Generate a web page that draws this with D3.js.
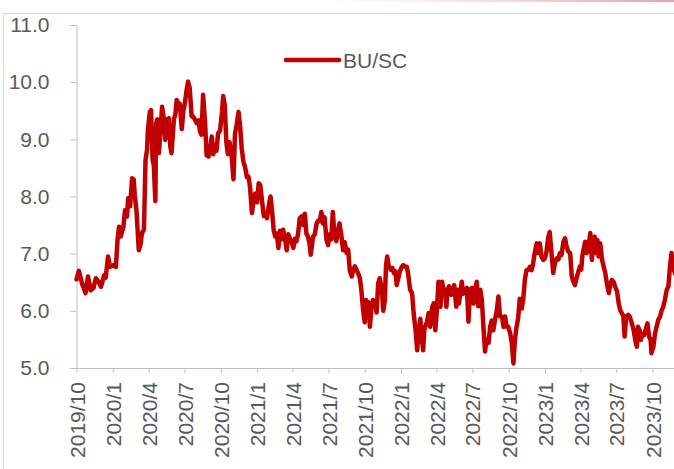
<!DOCTYPE html>
<html>
<head>
<meta charset="utf-8">
<script src="https://cdn.jsdelivr.net/npm/d3@7"></script>
<style>
  html, body { margin: 0; padding: 0; background: #fff; }
  svg { display: block; }
  text { font-family: "Liberation Sans", Arial, sans-serif; fill: #595959; }
</style>
</head>
<body>
<svg id="chart" width="674" height="469"></svg>
<script>
// BU/SC ratio, sampled observations
const seriesName = "BU/SC";
const dates = [
"2019-10-01","2019-10-07","2019-10-15","2019-10-24","2019-10-30","2019-11-06","2019-11-13","2019-11-19","2019-11-25","2019-12-02",
"2019-12-10","2019-12-14","2019-12-20","2019-12-25","2020-01-03","2020-01-09","2020-01-13","2020-01-17","2020-01-21","2020-01-28",
"2020-02-01","2020-02-06","2020-02-09","2020-02-14","2020-02-19","2020-02-23","2020-02-26","2020-03-01","2020-03-07","2020-03-11",
"2020-03-15","2020-03-20","2020-03-24","2020-03-28","2020-03-30","2020-04-04","2020-04-07","2020-04-11","2020-04-14","2020-04-18",
"2020-04-20","2020-04-23","2020-04-27","2020-05-01","2020-05-05","2020-05-09","2020-05-13","2020-05-17","2020-05-22","2020-05-26",
"2020-05-29","2020-06-04","2020-06-08","2020-06-11","2020-06-16","2020-06-19","2020-06-24","2020-06-28","2020-07-02","2020-07-06",
"2020-07-10","2020-07-14","2020-07-19","2020-07-23","2020-07-27","2020-08-01","2020-08-06","2020-08-09","2020-08-13","2020-08-17",
"2020-08-22","2020-08-26","2020-08-31","2020-09-04","2020-09-08","2020-09-12","2020-09-16","2020-09-20","2020-09-24","2020-09-29",
"2020-10-04","2020-10-07","2020-10-11","2020-10-15","2020-10-19","2020-10-23","2020-10-28","2020-11-02","2020-11-06","2020-11-10",
"2020-11-15","2020-11-19","2020-11-23","2020-11-27","2020-12-02","2020-12-06","2020-12-10","2020-12-14","2020-12-19","2020-12-23",
"2020-12-27","2021-01-01","2021-01-05","2021-01-09","2021-01-13","2021-01-18","2021-01-22","2021-01-26","2021-02-01","2021-02-04",
"2021-02-08","2021-02-12","2021-02-16","2021-02-20","2021-02-24","2021-02-28","2021-03-04","2021-03-08","2021-03-12","2021-03-17",
"2021-03-21","2021-03-25","2021-03-29","2021-04-03","2021-04-07","2021-04-11","2021-04-15","2021-04-19","2021-04-24","2021-04-28",
"2021-05-02","2021-05-06","2021-05-10","2021-05-14","2021-05-17","2021-05-23","2021-05-27","2021-06-01","2021-06-05","2021-06-09",
"2021-06-13","2021-06-17","2021-06-21","2021-06-26","2021-06-30","2021-07-04","2021-07-08","2021-07-12","2021-07-16","2021-07-21",
"2021-07-25","2021-07-29","2021-08-03","2021-08-07","2021-08-11","2021-08-16","2021-08-20","2021-08-24","2021-08-29","2021-09-02",
"2021-09-06","2021-09-10","2021-09-14","2021-09-19","2021-09-23","2021-09-27","2021-10-01","2021-10-04","2021-10-07","2021-10-11",
"2021-10-14","2021-10-18","2021-10-22","2021-10-27","2021-10-31","2021-11-04","2021-11-08","2021-11-13","2021-11-17","2021-11-21",
"2021-11-24","2021-11-27","2021-12-01","2021-12-06","2021-12-10","2021-12-14","2021-12-18","2021-12-21","2021-12-25","2021-12-29",
"2022-01-03","2022-01-07","2022-01-12","2022-01-16","2022-01-20","2022-01-24","2022-01-29","2022-02-02","2022-02-07","2022-02-11",
"2022-02-15","2022-02-19","2022-02-22","2022-02-26","2022-03-01","2022-03-03","2022-03-08","2022-03-12","2022-03-16","2022-03-21",
"2022-03-25","2022-03-29","2022-04-02","2022-04-06","2022-04-11","2022-04-15","2022-04-19","2022-04-23","2022-04-26","2022-04-29",
"2022-05-03","2022-05-08","2022-05-13","2022-05-16","2022-05-21","2022-05-25","2022-05-28","2022-05-31","2022-06-04","2022-06-08",
"2022-06-13","2022-06-17","2022-06-21","2022-06-25","2022-06-30","2022-07-04","2022-07-08","2022-07-12","2022-07-16","2022-07-21",
"2022-07-25","2022-07-29","2022-08-02","2022-08-06","2022-08-11","2022-08-15","2022-08-19","2022-08-23","2022-08-27","2022-09-01",
"2022-09-05","2022-09-09","2022-09-14","2022-09-18","2022-09-22","2022-09-26","2022-09-30","2022-10-05","2022-10-09","2022-10-13",
"2022-10-17","2022-10-21","2022-10-25","2022-10-29","2022-11-03","2022-11-07","2022-11-11","2022-11-15","2022-11-19","2022-11-24",
"2022-11-28","2022-12-02","2022-12-06","2022-12-11","2022-12-15","2022-12-19","2022-12-23","2022-12-28","2023-01-01","2023-01-05",
"2023-01-09","2023-01-13","2023-01-18","2023-01-22","2023-01-26","2023-01-31","2023-02-04","2023-02-08","2023-02-12","2023-02-17",
"2023-02-21","2023-02-25","2023-03-01","2023-03-06","2023-03-10","2023-03-14","2023-03-18","2023-03-22","2023-03-27","2023-03-31",
"2023-04-03","2023-04-06","2023-04-09","2023-04-13","2023-04-17","2023-04-21","2023-04-26","2023-04-30","2023-05-04","2023-05-07",
"2023-05-10","2023-05-14","2023-05-17","2023-05-21","2023-05-26","2023-05-30","2023-06-03","2023-06-07","2023-06-12","2023-06-16",
"2023-06-20","2023-06-24","2023-06-28","2023-07-03","2023-07-07","2023-07-11","2023-07-15","2023-07-19","2023-07-22","2023-07-26",
"2023-07-31","2023-08-04","2023-08-08","2023-08-12","2023-08-14","2023-08-18","2023-08-22","2023-08-25","2023-08-29","2023-09-01",
"2023-09-05","2023-09-09","2023-09-13","2023-09-18","2023-09-22","2023-09-26","2023-09-28","2023-10-03","2023-10-07","2023-10-11",
"2023-10-16","2023-10-20","2023-10-24","2023-10-28","2023-11-01","2023-11-06","2023-11-10","2023-11-14","2023-11-18","2023-11-22",
"2023-11-27"
];
const values = [
6.55,6.70,6.48,6.31,6.60,6.36,6.40,6.57,6.52,6.42,
6.62,6.58,6.95,6.77,6.80,6.77,7.24,7.47,7.30,7.47,
7.76,7.65,7.97,7.83,8.32,8.30,8.01,7.76,7.06,7.15,
7.36,7.42,8.64,8.82,9.16,9.48,9.51,8.64,8.55,7.92,
9.28,9.35,8.76,9.16,9.57,9.39,8.99,9.34,9.37,8.87,
8.76,9.35,9.45,9.69,9.60,9.62,9.18,9.50,9.64,9.85,
10.01,9.90,9.40,9.40,9.35,9.28,9.33,9.14,9.08,9.78,
9.30,8.72,8.70,8.85,9.05,8.74,8.90,8.80,9.10,9.15,
9.48,9.76,9.60,8.95,8.74,8.95,8.75,8.30,9.10,9.25,
9.48,9.22,8.84,8.62,8.50,8.34,8.35,8.17,7.71,7.92,
8.05,7.90,8.23,8.20,7.95,7.66,7.72,7.62,7.90,8.00,
7.75,7.41,7.30,7.35,7.10,7.40,7.25,7.42,7.30,7.06,
7.34,7.27,7.22,7.10,7.26,7.22,7.35,7.62,7.65,7.50,
7.70,7.35,7.30,7.18,6.98,7.30,7.33,7.53,7.58,7.57,
7.73,7.53,7.64,7.24,7.15,7.34,7.25,7.73,7.34,7.22,
7.40,7.53,7.30,7.06,7.20,7.01,7.07,6.71,6.60,6.72,
6.78,6.72,6.66,6.56,6.32,6.00,5.80,6.19,5.95,6.15,
5.72,6.05,6.19,6.15,5.97,6.48,6.57,6.40,6.00,6.19,
6.80,6.95,6.78,6.72,6.75,6.66,6.69,6.45,6.57,6.69,
6.77,6.80,6.77,6.77,6.60,6.37,6.31,5.96,5.66,5.31,
5.66,5.86,5.60,5.31,5.66,5.72,5.81,5.96,5.72,6.07,
6.13,5.66,6.02,6.51,6.07,6.51,6.37,6.37,6.07,6.37,
6.43,6.28,6.37,6.45,6.07,6.37,6.13,6.30,6.51,6.30,
6.37,6.40,5.81,6.37,6.40,6.13,6.37,6.51,6.08,6.37,
6.19,5.72,5.29,5.50,5.44,5.72,5.83,5.66,5.83,6.01,
6.25,5.90,5.90,5.72,5.90,5.72,5.72,5.60,5.43,5.08,
5.50,5.72,5.87,6.21,6.04,6.21,6.54,6.71,6.71,6.77,
6.71,6.83,7.01,7.18,7.01,7.18,6.95,6.89,6.92,7.04,
7.27,7.38,6.98,6.66,6.83,6.92,6.90,7.01,6.98,7.21,
7.27,7.12,7.04,7.01,6.60,6.51,6.45,6.57,6.69,6.78,
6.72,6.97,7.07,7.21,7.01,7.10,7.36,6.89,7.24,7.30,
7.01,7.24,6.95,7.18,6.89,6.77,6.66,6.48,6.31,6.48,
6.54,6.51,6.42,6.34,6.13,6.01,5.96,5.90,5.55,5.90,
5.93,5.90,5.81,5.72,5.66,5.49,5.37,5.72,5.66,5.49,
5.60,5.57,5.66,5.78,5.55,5.49,5.26,5.37,5.60,5.72,
5.85,5.90,6.01,6.07,6.19,6.37,6.43,6.77,7.01,6.77,
6.65
];
const yTicks = [5, 6, 7, 8, 9, 10, 11];
const xTickDates = [
"2019-10-01","2020-01-01","2020-04-01","2020-07-01","2020-10-01","2021-01-01","2021-04-01","2021-07-01",
"2021-10-01","2022-01-01","2022-04-01","2022-07-01","2022-10-01","2023-01-01","2023-04-01","2023-07-01","2023-10-01"
];

const parse = d3.timeParse("%Y-%m-%d");
const data = dates.map((d, i) => ({ date: parse(d), value: values[i] }));

const svg = d3.select("#chart");
const W = 674, H = 469;
const plot = { left: 76.5, top: 25, bottom: 368 };

// Faint accent strip along the top edge
const defs = svg.append("defs");
const grad = defs.append("linearGradient").attr("id", "topStrip").attr("x1", "0").attr("x2", "1");
grad.append("stop").attr("offset", "0").attr("stop-color", "#f4cccc").attr("stop-opacity", 0);
grad.append("stop").attr("offset", "1").attr("stop-color", "#e6a3a3").attr("stop-opacity", 1);
svg.append("rect").attr("x", 320).attr("y", 0).attr("width", W - 320).attr("height", 2).attr("fill", "url(#topStrip)");

// Chart-area frame
svg.append("path")
  .attr("d", `M3.5,${H} V13.5 H${W + 2}`)
  .attr("fill", "none").attr("stroke", "#d9d9d9").attr("stroke-width", 1);

// Scales: one quarter on the axis spans the same width as in the source layout
const x = d3.scaleTime()
  .domain([parse("2019-10-01"), parse("2023-10-01")])
  .range([plot.left, 652.6]);
const y = d3.scaleLinear().domain([5, 11]).range([plot.bottom, plot.top]);

const axisColor = "#bfbfbf";

// Y axis
const yAxis = svg.append("g").attr("transform", `translate(${plot.left},0)`)
  .call(d3.axisLeft(y).tickValues(yTicks).tickSize(6).tickPadding(21).tickFormat(d3.format(".1f")));
yAxis.select(".domain").attr("stroke", axisColor);
yAxis.selectAll(".tick line").attr("stroke", axisColor);
yAxis.selectAll(".tick text")
  .attr("font-size", 21).attr("fill", "#595959")
  .style("font-family", '"Liberation Sans", Arial, sans-serif');

// X axis (extends to the right edge)
const xAxis = svg.append("g").attr("transform", `translate(0,${plot.bottom})`)
  .call(d3.axisBottom(x).tickValues(xTickDates.map(parse)).tickSize(5).tickSizeOuter(0)
    .tickFormat(d3.timeFormat("%Y/%-m")));
xAxis.select(".domain").attr("d", `M${plot.left},0.5H${W + 2}`).attr("stroke", axisColor);
xAxis.selectAll(".tick line").attr("stroke", axisColor);
xAxis.selectAll(".tick text")
  .attr("font-size", 21).attr("fill", "#595959")
  .style("font-family", '"Liberation Sans", Arial, sans-serif')
  .attr("text-anchor", "end")
  .attr("transform", "rotate(-90)")
  .attr("x", -14).attr("y", 0).attr("dy", "0.36em");

// Series line
const line = d3.line().x(d => x(d.date)).y(d => y(d.value));
svg.append("path").datum(data)
  .attr("d", line)
  .attr("fill", "none")
  .attr("stroke", "#c00000")
  .attr("stroke-width", 4.5)
  .attr("stroke-linejoin", "round")
  .attr("stroke-linecap", "round");

// Legend
const legend = svg.append("g").attr("transform", "translate(286,60)");
legend.append("line").attr("x1", 0).attr("x2", 53).attr("y1", 0).attr("y2", 0)
  .attr("stroke", "#c00000").attr("stroke-width", 4.5).attr("stroke-linecap", "round");
legend.append("text").attr("x", 57).attr("y", 0).attr("dy", "0.36em")
  .attr("font-size", 21).text(seriesName);
</script>
</body>
</html>
